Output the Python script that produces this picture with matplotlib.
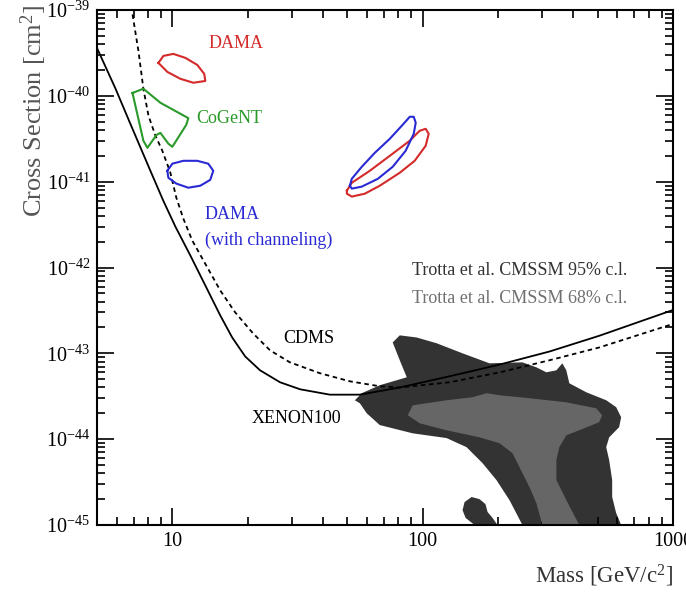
import matplotlib

matplotlib.use("Agg")
import matplotlib.pyplot as plt
from matplotlib.ticker import LogLocator, LogFormatterMathtext, NullFormatter

plt.rcParams["font.family"] = ["Liberation Serif", "DejaVu Serif"]
plt.rcParams["mathtext.fontset"] = "custom"
plt.rcParams["mathtext.rm"] = "Liberation Serif"
plt.rcParams["mathtext.it"] = "Liberation Serif:italic"
plt.rcParams["axes.unicode_minus"] = False

# XENON100 limit (solid).
xenon_mass = [5.0, 5.93, 6.8, 8.17, 9.2, 10.28, 11.8, 13.54, 15.53, 17.34,
              19.54, 22.41, 26.93, 32.4, 42.6, 56.1, 80.9, 128, 203, 321, 507,
              1000]
xenon_sigma = [3.6e-40, 1.21e-40, 4.7e-41, 1.34e-41, 6.0e-42, 3.0e-42,
               1.38e-42, 6.18e-43, 2.77e-43, 1.53e-43, 9.2e-44, 6.34e-44,
               4.6e-44, 3.81e-44, 3.3e-44, 3.3e-44, 4.0e-44, 5.4e-44, 7.4e-44,
               1.05e-43, 1.6e-43, 3.2e-43]

# CDMS limit (dashed).
cdms_mass = [6.85, 7.32, 7.66, 8.03, 8.56, 9.12, 9.82, 10.37, 11.06, 12.01,
             13.8, 15.53, 17.82, 21.0, 24.6, 29.5, 38.9, 51.2, 67.4, 80.9, 128,
             203, 321, 507, 1000]
cdms_sigma = [1.1e-39, 3.33e-40, 1.21e-40, 5.85e-41, 3.43e-41, 2.29e-41,
              1.27e-41, 6.52e-42, 3.72e-42, 2.06e-42, 1.0e-42, 5.41e-43,
              3.0e-43, 1.71e-43, 1.08e-43, 7.85e-44, 5.86e-44, 4.72e-44,
              4.13e-44, 4.0e-44, 4.6e-44, 6.0e-44, 8.3e-44, 1.17e-43, 2.2e-43]

# DAMA (red), low mass island.
dama_lo_mass = [8.8, 9.21, 10.09, 11.27, 12.58, 13.41, 13.54, 12.13, 10.76, 9.55]
dama_lo_sigma = [2.42e-40, 2.92e-40, 3.08e-40, 2.77e-40, 2.29e-40, 1.80e-40,
                 1.49e-40, 1.42e-40, 1.58e-40, 1.90e-40]

# DAMA (red), high mass island.
dama_hi_mass = [49.8, 52.1, 61.5, 73.9, 88.8, 97.3, 102.8, 105.7, 102.8, 92.9,
                81.0, 67.4, 58.7, 52.1, 49.8]
dama_hi_sigma = [7.85e-42, 9.7e-42, 1.34e-41, 2.0e-41, 3.0e-41, 3.92e-41,
                 4.13e-41, 3.61e-41, 2.62e-41, 1.75e-41, 1.27e-41, 8.97e-42,
                 7.24e-42, 6.7e-42, 7.24e-42]

# DAMA with channeling (blue).
damach_lo_mass = [9.55, 10.0, 11.06, 12.58, 13.91, 14.57, 14.17, 12.93, 11.58,
                  10.37, 9.64]
damach_lo_sigma = [1.34e-41, 1.62e-41, 1.75e-41, 1.75e-41, 1.62e-41, 1.34e-41,
                   1.05e-41, 8.97e-42, 8.5e-42, 9.5e-42, 1.11e-41]
damach_hi_mass = [51.2, 52.1, 57.1, 64.4, 73.9, 83.2, 88.8, 92.1, 93.8, 92.1,
                  85.5, 75.9, 66.2, 57.1, 52.1]
damach_hi_sigma = [8.97e-42, 1.08e-41, 1.49e-41, 2.17e-41, 3.16e-41, 4.6e-41,
                   5.7e-41, 5.7e-41, 4.85e-41, 3.61e-41, 2.29e-41, 1.49e-41,
                   1.08e-41, 8.75e-42, 8.3e-42]

# CoGeNT (green).
cogent_mass = [6.93, 7.66, 8.96, 11.58, 11.37, 10.0, 9.64, 8.96, 8.64, 7.95, 7.66]
cogent_sigma = [1.08e-40, 1.21e-40, 8.3e-41, 5.5e-41, 4.6e-41, 2.55e-41,
                2.77e-41, 3.7e-41, 3.5e-41, 2.48e-41, 3.0e-41]

# Trotta et al. CMSSM 95% region.
cmssm95_mass = [53.6, 57.1, 67.4, 86.4, 81.0, 75.9, 81.0, 94.6, 113.7, 144.3,
                184.9, 250.3, 284.6, 311.9, 342.0, 361.3, 374.8, 385.3, 450.2,
                541.0, 592.8, 620.6, 609.4, 555.9, 541.0, 555.9, 571.5, 571.5,
                592.8, 620.6, 250.3, 222.2, 197.1, 173.4, 149.7, 124.6, 91.2,
                67.4, 59.8, 56.1]
cmssm95_sigma = [2.84e-44, 3.43e-44, 4.25e-44, 5.26e-44, 8.3e-44, 1.34e-43,
                 1.62e-43, 1.53e-43, 1.31e-43, 1.0e-43, 7.65e-44, 7.85e-44,
                 6.87e-44, 6.01e-44, 6.34e-44, 7.65e-44, 6.34e-44, 4.48e-44,
                 3.52e-44, 2.84e-44, 2.36e-44, 1.80e-44, 1.38e-44, 1.05e-44,
                 8.07e-45, 5.70e-45, 3.34e-45, 2.12e-45, 1.38e-45, 1.0e-45,
                 1.0e-45, 1.95e-45, 3.34e-45, 5.26e-45, 8.07e-45, 1.03e-44,
                 1.17e-44, 1.46e-44, 2.0e-44, 2.62e-44]
blob95_mass = [144.3, 147.0, 156.8, 168.7, 178.2, 181.6, 190.1, 199.0, 161.2, 148.4]
blob95_sigma = [1.49e-45, 1.85e-45, 2.12e-45, 2.0e-45, 1.75e-45, 1.42e-45,
                1.21e-45, 1.0e-45, 1.0e-45, 1.21e-45]

# Trotta et al. CMSSM 68% region.
cmssm68_mass = [87.2, 91.2, 124.6, 158.2, 179.9, 202.7, 266.9, 374.8, 493.4,
                521.3, 507.2, 422.3, 374.8, 351.4, 342.0, 342.0, 374.8, 422.3,
                300.7, 284.6, 266.9, 243.5, 228.4, 202.7, 168.7, 124.6, 97.3]
cmssm68_sigma = [1.90e-44, 2.48e-44, 2.84e-44, 3.08e-44, 3.43e-44, 3.25e-44,
                 3.0e-44, 2.69e-44, 2.29e-44, 1.90e-44, 1.58e-44, 1.27e-44,
                 1.11e-44, 8.07e-45, 5.70e-45, 3.34e-45, 1.95e-45, 1.0e-45,
                 1.0e-45, 1.80e-45, 2.77e-45, 4.73e-45, 6.87e-45, 8.98e-45,
                 1.05e-44, 1.27e-44, 1.53e-44]


def closed(xs, ys):
    return list(xs) + [xs[0]], list(ys) + [ys[0]]


fig = plt.figure(figsize=(6.86, 5.95), dpi=100)
ax = fig.add_axes([97 / 686, 70 / 595, 576 / 686, 515 / 595])

ax.fill(cmssm95_mass, cmssm95_sigma, color="#333333", lw=0, zorder=1)
ax.fill(blob95_mass, blob95_sigma, color="#333333", lw=0, zorder=1)
ax.fill(cmssm68_mass, cmssm68_sigma, color="#666666", lw=0, zorder=2)

ax.plot(xenon_mass, xenon_sigma, color="black", lw=1.3, zorder=3)
ax.plot(cdms_mass, cdms_sigma, color="black", lw=1.3, ls=(0, (2.5, 2.0)), zorder=3)

red = "#d42a2a"
blue = "#2a2ad4"
green = "#2a9a2a"
for xs, ys, c in [
    (dama_lo_mass, dama_lo_sigma, red),
    (dama_hi_mass, dama_hi_sigma, red),
    (damach_lo_mass, damach_lo_sigma, blue),
    (damach_hi_mass, damach_hi_sigma, blue),
    (cogent_mass, cogent_sigma, green),
]:
    cx, cy = closed(xs, ys)
    ax.plot(cx, cy, color=c, lw=1.5, zorder=4)

ax.set_xscale("log")
ax.set_yscale("log")
ax.set_xlim(5, 1000)
ax.set_ylim(1e-45, 1e-39)

ax.xaxis.set_major_locator(LogLocator(base=10, numticks=10))
ax.xaxis.set_minor_locator(LogLocator(base=10, subs=range(2, 10), numticks=20))
ax.xaxis.set_major_formatter(plt.FuncFormatter(lambda v, p: f"{v:g}"))
ax.xaxis.set_minor_formatter(NullFormatter())
ax.yaxis.set_major_locator(LogLocator(base=10, numticks=10))
ax.yaxis.set_minor_locator(LogLocator(base=10, subs=range(2, 10), numticks=20))
ax.yaxis.set_major_formatter(LogFormatterMathtext())
ax.yaxis.set_minor_formatter(NullFormatter())

ax.tick_params(which="both", direction="in", top=True, right=True, width=1.2,
               labelsize=14.5, colors="black")
ax.tick_params(which="major", length=12, pad=5)
ax.tick_params(which="minor", length=6)
for s in ax.spines.values():
    s.set_linewidth(1.5)

ax.set_xlabel("Mass [GeV/c$^2$]", loc="right", fontsize=16.5, color="#333333")
ax.xaxis.set_label_coords(1.0, -0.074)
ax.set_ylabel("Cross Section [cm$^2$]", loc="top", fontsize=19, color="#555555")
ax.yaxis.set_label_coords(-0.083, 1.01)

tkw = dict(fontsize=13, va="center", transform=ax.transData, zorder=5)
ax.text(13.9, 4.1e-40, "DAMA", color=red, **tkw)
ax.text(12.46, 5.4e-41, "CoGeNT", color=green, **tkw)
ax.text(13.5, 4.1e-42, "DAMA", color=blue, **tkw)
ax.text(13.5, 2.06e-42, "(with channeling)", color=blue, **tkw)
ax.text(90.4, 9.2e-43, "Trotta et al. CMSSM 95% c.l.", color="#333333", **tkw)
ax.text(90.4, 4.37e-43, "Trotta et al. CMSSM 68% c.l.", color="#707070", **tkw)
ax.text(27.7, 1.49e-43, "CDMS", color="black", **tkw)
ax.text(20.8, 1.75e-44, "XENON100", color="black", **tkw)

fig.savefig("out.png", dpi=100)
